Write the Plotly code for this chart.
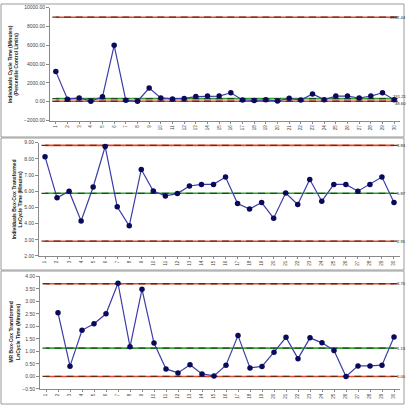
import plotly.graph_objects as go

# ---------------- data ----------------
samples = list(range(1, 31))
cycle_time = [3200, 270, 400, 60, 520, 6000, 150, 50, 1450, 400,
              300, 350, 550, 600, 600, 950, 190, 130, 200, 80,
              360, 180, 830, 220, 600, 600, 400, 600, 950, 200]
ln_cycle = [8.13, 5.59, 6.00, 4.16, 6.26, 8.76, 5.04, 3.86, 7.34, 6.01,
            5.71, 5.85, 6.32, 6.42, 6.42, 6.87, 5.24, 4.90, 5.30, 4.33,
            5.89, 5.18, 6.72, 5.38, 6.42, 6.42, 6.00, 6.42, 6.87, 5.30]
mr_ln = [None, 2.54, 0.41, 1.84, 2.10, 2.50, 3.72, 1.18, 3.48, 1.33,
         0.30, 0.14, 0.47, 0.10, 0.02, 0.45, 1.63, 0.34, 0.40, 0.97,
         1.56, 0.71, 1.54, 1.34, 1.04, 0.00, 0.42, 0.42, 0.45, 1.57]

limits1 = {"UCL": 8982.44, "CL": 331.21, "LCL": 48.60}
limits2 = {"UCL": 8.83, "CL": 5.87, "LCL": 2.91}
limits3 = {"UCL": 3.70, "CL": 1.13, "LCL": 0.00}

titles = ["Individuals Cycle Time (Minutes)<br>(Percentile Control Limits)",
          "Individuals Box-Cox Transformed<br>LnCycle Time (Minutes)",
          "MR Box-Cox Transformed<br>LnCycle Time (Minutes)"]
yranges = [[-2000, 10000], [2, 9], [-0.5, 4]]
ydticks = [2000, 1, 0.5]

# ---------------- layout geometry (pixels) ----------------
W, H = 410, 409
def px(x): return x / W
def py(y): return 1 - y / H

panels = [
    dict(x0=50, x1=400, y0=4.7, y1=119.3, frame=(1, 1, 404, 136), tx=13),
    dict(x0=39, x1=400, y0=141.7, y1=256.7, frame=(1, 137, 404, 271), tx=17),
    dict(x0=40, x1=400, y0=277.3, y1=391.7, frame=(1, 272, 404, 407), tx=15),
]

RED = "#E2482A"
GREEN = "#2FA82F"
DATA_LINE = "#3C3CA8"
DATA_MARK = "#0A0A5A"
FONT = "Liberation Sans"

fig = go.Figure()
series = [cycle_time, ln_cycle, mr_ln]
limits = [limits1, limits2, limits3]

for i, (p, ys, lim) in enumerate(zip(panels, series, limits)):
    xa = "x" if i == 0 else f"x{i+1}"
    ya = "y" if i == 0 else f"y{i+1}"
    for key, col, mcol in [("UCL", RED, "#6a2a18"), ("LCL", RED, "#6a2a18"),
                           ("CL", GREEN, "#1f4a1f")]:
        fig.add_trace(go.Scatter(
            x=samples, y=[lim[key]] * len(samples), xaxis=xa, yaxis=ya,
            mode="lines+markers", line=dict(color=col, width=1.6),
            marker=dict(symbol="line-ew", size=5,
                        line=dict(color=mcol, width=1.3)),
            hoverinfo="skip", showlegend=False))
    fig.add_trace(go.Scatter(
        x=samples, y=ys, xaxis=xa, yaxis=ya, mode="lines+markers",
        line=dict(color=DATA_LINE, width=1.2),
        marker=dict(symbol="circle", size=5.5, color=DATA_MARK),
        connectgaps=False, showlegend=False))

layout = dict(width=W, height=H, margin=dict(l=0, r=0, t=0, b=0),
              paper_bgcolor="white", plot_bgcolor="white",
              font=dict(family=FONT, size=5, color="#333"))
shapes, annots = [], []
for i, p in enumerate(panels):
    sfx = "" if i == 0 else str(i + 1)
    layout[f"xaxis{sfx}"] = dict(
        domain=[px(p["x0"]), px(p["x1"])], anchor=f"y{sfx}",
        range=[0.5, 30.5], tickvals=samples, ticktext=[str(s) for s in samples],
        tickangle=-90, tickfont=dict(size=4.5, color="#444"),
        showline=True, linecolor="#8a8a8a", linewidth=1, mirror=False,
        ticks="outside", ticklen=2, tickcolor="#8a8a8a",
        showgrid=False, zeroline=False, fixedrange=True)
    layout[f"yaxis{sfx}"] = dict(
        domain=[py(p["y1"]), py(p["y0"])], anchor=f"x{sfx}",
        range=yranges[i], dtick=ydticks[i], tick0=yranges[i][0],
        tickformat=".2f", tickfont=dict(size=5, color="#444"),
        showline=True, linecolor="#8a8a8a", linewidth=1,
        ticks="outside", ticklen=3, tickcolor="#8a8a8a",
        showgrid=False, zeroline=False, fixedrange=True)
    fx0, fy0, fx1, fy1 = p["frame"]
    shapes.append(dict(type="rect", xref="paper", yref="paper",
                       x0=px(fx0), x1=px(fx1), y0=py(fy1), y1=py(fy0),
                       line=dict(color="#9a9a9a", width=1),
                       fillcolor="rgba(0,0,0,0)", layer="below"))
    annots.append(dict(text=f"<b>{titles[i]}</b>", xref="paper", yref="paper",
                       x=px(p["tx"]), y=py((p["y0"] + p["y1"]) / 2),
                       textangle=-90, showarrow=False,
                       font=dict(size=5, color="#222"),
                       xanchor="center", yanchor="middle"))
    lim = limits[i]
    xa = "x" if i == 0 else f"x{i+1}"
    ya = "y" if i == 0 else f"y{i+1}"
    for key in ["UCL", "CL", "LCL"]:
        off = 0
        if i == 0 and key == "CL":
            off = -2
        if i == 0 and key == "LCL":
            off = 2
        annots.append(dict(text=f"{lim[key]:.2f}", xref="paper", yref=ya,
                           x=px(408), y=lim[key], yshift=-off,
                           xanchor="right", yanchor="middle", showarrow=False,
                           font=dict(size=4.2, color="#222")))

layout["shapes"] = shapes
layout["annotations"] = annots
fig.update_layout(**layout)
fig.write_html("out.html")
